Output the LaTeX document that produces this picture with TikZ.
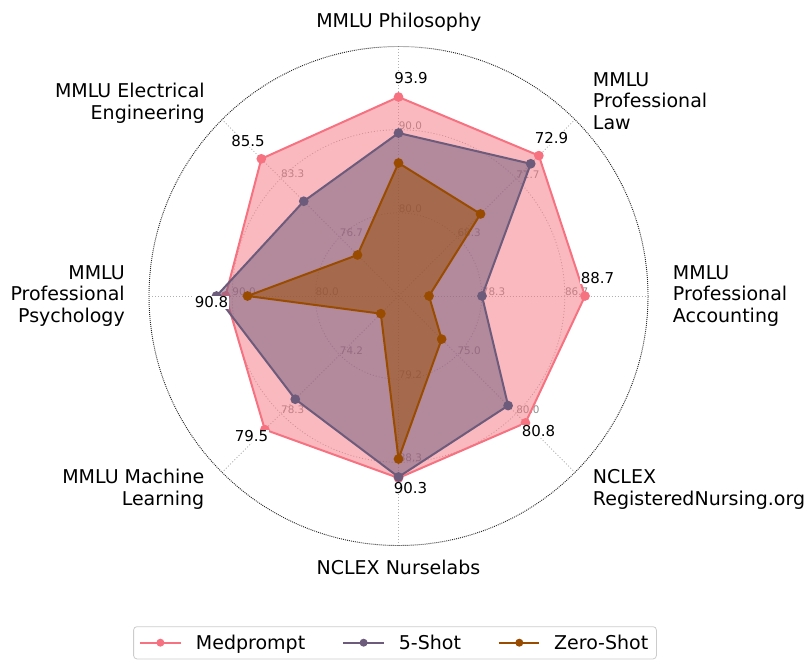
\documentclass[tikz,border=0pt]{standalone}
\usepackage{fontspec}
\setmainfont{DejaVu Sans}
\definecolor{medc}{HTML}{F67280}
\definecolor{fivec}{HTML}{6C5B7B}
\definecolor{zeroc}{HTML}{994C00}
\definecolor{gridc}{RGB}{176,176,176}
\definecolor{glabc}{RGB}{140,140,140}
\definecolor{legc}{RGB}{204,204,204}
\begin{document}
\begin{tikzpicture}[x=0.75pt,y=0.75pt,
  spoke/.style={draw=gridc, line width=0.6pt, dash pattern=on 0.75pt off 1.5pt},
  gridring/.style={draw=gridc, line width=0.6pt, dash pattern=on 0.75pt off 1.5pt},
  rimline/.style={draw=black!85, line width=0.7pt, dash pattern=on 0.7pt off 0.8pt},
  axlabel/.style={font=\fontsize{14.25}{16.3}\selectfont, inner sep=0pt},
  vallabel/.style={font=\fontsize{11.25}{13}\selectfont, fill=white, inner sep=0.6pt},
  glab/.style={font=\fontsize{7.8}{9}\selectfont, text=glabc, anchor=south west, inner sep=0pt},
  serline/.style={line width=1.5pt, line join=round},
  dotm/.style={circle, inner sep=0pt, minimum size=7.3pt},
  legdot/.style={circle, inner sep=0pt, minimum size=6pt},
  legtext/.style={font=\fontsize{14.25}{16.3}\selectfont, inner sep=0pt, anchor=base west}
]
\useasboundingbox (0,0) rectangle (809,660);
\coordinate (C) at (398.5,364);

% grid rings, spokes and rim
\draw[gridring] (C) circle[radius=83.2];
\draw[gridring] (C) circle[radius=166.3];
\foreach \a [count=\i from 0] in {0,45,90,135,180,225,270,315} {
  \coordinate (rim\i) at ([shift={(\a:249.5)}]C);
  \draw[spoke] (C) -- (rim\i);
}
\draw[rimline] (C) circle[radius=249.5];

% grid labels
\foreach \a/\u/\v [count=\i from 0] in {0/78.3/86.7, 45/68.3/71.7, 90/80.0/90.0, 135/76.7/83.3, 180/80.0/90.0, 225/74.2/78.3, 270/79.2/88.3, 315/75.0/80.0} {
  \node[glab] (gla\i) at ([shift={(\a:83.2)}]C) {\u};
  \node[glab] (glb\i) at ([shift={(\a:166.3)}]C) {\v};
}

% Medprompt
\foreach \a/\r [count=\i from 0] in {0/186.5,45/198.5,90/199,135/194,180/173,225/189,270/182,315/179.5}
  \coordinate (m\i) at ([shift={(\a:\r)}]C);
\fill[medc, fill opacity=0.5] (m0) -- (m1) -- (m2) -- (m3) -- (m4) -- (m5) -- (m6) -- (m7) -- cycle;
\draw[serline, medc] (m0) -- (m1) -- (m2) -- (m3) -- (m4) -- (m5) -- (m6) -- (m7) -- cycle;
\foreach \i in {0,...,7} \node[dotm, fill=medc] (mkm\i) at (m\i) {};

% 5-Shot
\foreach \a/\r [count=\i from 0] in {0/83.5,45/187,90/163,135/134,180/182,225/146,270/181,315/155}
  \coordinate (f\i) at ([shift={(\a:\r)}]C);
\fill[fivec, fill opacity=0.5] (f0) -- (f1) -- (f2) -- (f3) -- (f4) -- (f5) -- (f6) -- (f7) -- cycle;
\draw[serline, fivec] (f0) -- (f1) -- (f2) -- (f3) -- (f4) -- (f5) -- (f6) -- (f7) -- cycle;
\foreach \i in {0,...,7} \node[dotm, fill=fivec] (mkf\i) at (f\i) {};

% Zero-Shot
\foreach \a/\r [count=\i from 0] in {0/30.5,45/116,90/133,135/58,180/151,225/25,270/163,315/61}
  \coordinate (z\i) at ([shift={(\a:\r)}]C);
\fill[zeroc, fill opacity=0.5] (z0) -- (z1) -- (z2) -- (z3) -- (z4) -- (z5) -- (z6) -- (z7) -- cycle;
\draw[serline, zeroc] (z0) -- (z1) -- (z2) -- (z3) -- (z4) -- (z5) -- (z6) -- (z7) -- cycle;
\foreach \i in {0,...,7} \node[dotm, fill=zeroc] (mkz\i) at (z\i) {};

% value labels
\node[vallabel] (v2) at (411,581.5) {93.9};
\node[vallabel] (v3) at (248,519) {85.5};
\node[vallabel] (v1) at (551.5,521.5) {72.9};
\node[vallabel] (v0) at (597.5,382) {88.7};
\node[vallabel] (v4) at (211.5,357.5) {90.8};
\node[vallabel] (v5) at (251.5,223.5) {79.5};
\node[vallabel] (v6) at (410.5,172) {90.3};
\node[vallabel] (v7) at (538.5,229) {80.8};

% axis labels
\node[axlabel, anchor=base] (ax2) at (398.8,632.7) {MMLU Philosophy};
\node[axlabel, anchor=north west, align=left] (ax1) at (592.7,587.9) {MMLU\\Professional\\Law};
\node[axlabel, anchor=north west, align=left] (ax0) at (672.7,394.9) {MMLU\\Professional\\Accounting};
\node[axlabel, anchor=north east, align=right] (ax3) at (205,577.4) {MMLU Electrical\\Engineering};
\node[axlabel, anchor=north east, align=right] (ax4) at (125,394.9) {MMLU\\Professional\\Psychology};
\node[axlabel, anchor=north east, align=right] (ax5) at (204.5,191.4) {MMLU Machine\\Learning};
\node[axlabel, anchor=north west, align=left] (ax7) at (592.7,190.9) {NCLEX\\RegisteredNursing.org};
\node[axlabel, anchor=base] (ax6) at (398.5,86) {NCLEX Nurselabs};

% legend
\node[draw=legc, fill=white, rounded corners=2.5pt, line width=0.6pt, minimum width=392.1pt, minimum height=24.2pt, inner sep=0pt] (legend) at (395,17.2) {};
\coordinate (l1a) at (140,17.3); \coordinate (l1b) at (181,17.3);
\draw[serline, medc] (l1a) -- (l1b);
\node[legdot, fill=medc] (l1m) at (160.4,17.3) {};
\node[legtext] (l1t) at (195.7,10.7) {Medprompt};
\coordinate (l2a) at (343,17.3); \coordinate (l2b) at (383.6,17.3);
\draw[serline, fivec] (l2a) -- (l2b);
\node[legdot, fill=fivec] (l2m) at (363.6,17.3) {};
\node[legtext] (l2t) at (398.6,10.7) {5-Shot};
\coordinate (l3a) at (498.6,17.3); \coordinate (l3b) at (538.6,17.3);
\draw[serline, zeroc] (l3a) -- (l3b);
\node[legdot, fill=zeroc] (l3m) at (519.3,17.3) {};
\node[legtext] (l3t) at (553.9,10.7) {Zero-Shot};
\end{tikzpicture}
\end{document}
